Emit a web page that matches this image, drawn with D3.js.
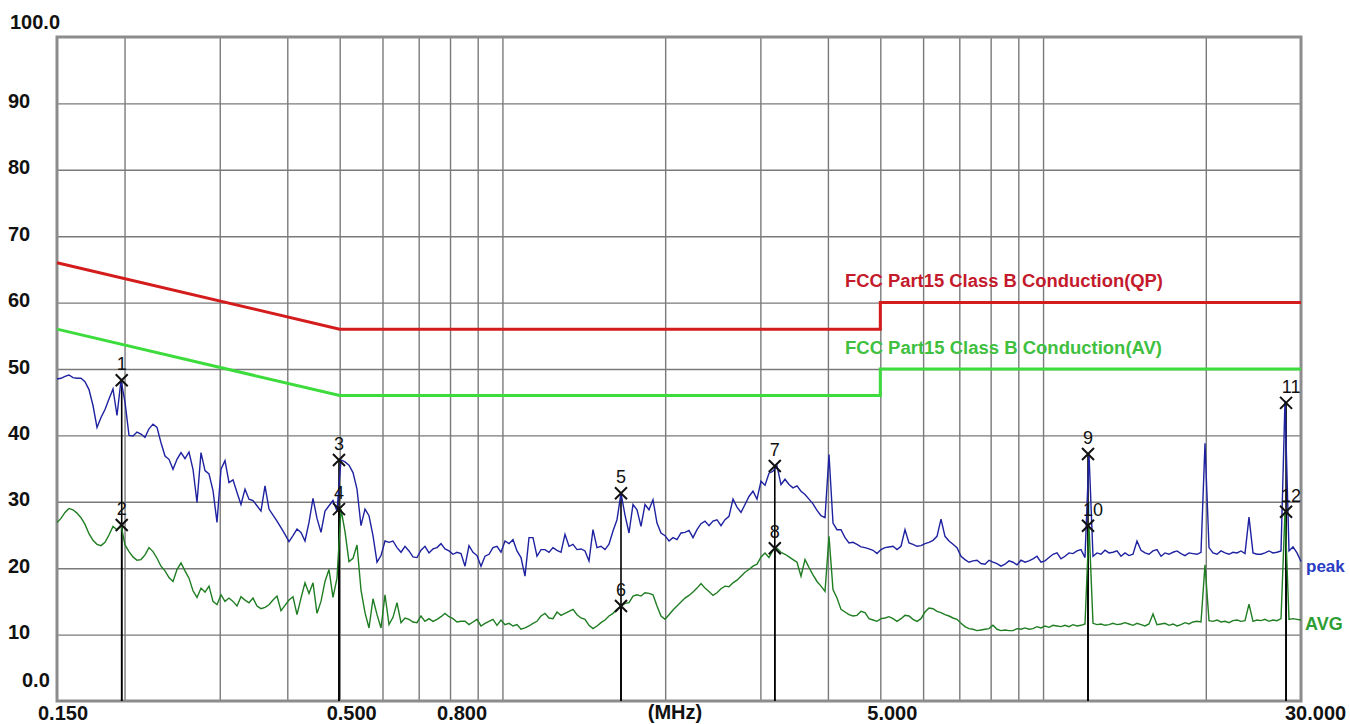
<!DOCTYPE html>
<html><head><meta charset="utf-8">
<script src="https://cdn.jsdelivr.net/npm/d3@7"></script>
<style>html,body{margin:0;padding:0;background:#fff;} svg{display:block;font-family:"Liberation Sans",Arial,sans-serif;}</style>
</head><body>
<svg id="chart" width="1350" height="724"></svg>
<script>
// ---------- data ----------
const fMin = 0.15, fMax = 30;
const yTicks = [100, 90, 80, 70, 60, 50, 40, 30, 20, 10, 0];
const yTickLabels = ["100.0", "90", "80", "70", "60", "50", "40", "30", "20", "10", "0.0"];
const xTickFreqs = [0.15, 0.5, 0.8, 5, 30];
const xTickLabels = ["0.150", "0.500", "0.800", "5.000", "30.000"];
const xUnitLabel = "(MHz)";
const gridFreqs = [0.2, 0.3, 0.4, 0.5, 0.6, 0.7, 0.8, 0.9, 1, 2, 3, 4, 5, 6, 7, 8, 9, 10, 20];
const gridLevels = [10, 20, 30, 40, 50, 60, 70, 80, 90];

const qpFreq = [0.15, 0.5, 5, 5, 30];
const qpLimit = [66, 56, 56, 60, 60];
const avFreq = [0.15, 0.5, 5, 5, 30];
const avLimit = [56, 46, 46, 50, 50];
const qpName = "FCC Part15 Class B Conduction(QP)";
const avName = "FCC Part15 Class B Conduction(AV)";

// sweep readings (dBuV), evenly spaced on the log frequency sweep 0.15 - 30 MHz
const peakLevel = [
48.5,48.6,48.9,49.1,48.7,48.6,48.6,48.1,46.9,44.5,41.2,42.7,43.9,45.5,47.0,
43.0,48.3,45.0,40.0,39.9,40.5,40.2,39.7,41.0,41.7,41.2,38.9,36.9,36.4,34.9,
36.4,37.4,36.5,37.5,34.9,29.9,37.4,34.7,34.2,31.7,26.9,34.9,36.2,32.9,33.3,
31.4,29.6,31.9,30.4,30.2,29.4,28.6,32.4,28.9,28.0,27.1,26.1,25.1,24.0,24.9,
25.9,25.4,24.1,26.9,30.5,27.5,25.4,28.6,29.4,30.2,28.6,36.3,36.0,35.5,34.4,
31.9,26.4,28.9,27.9,24.9,20.9,21.9,24.1,23.9,24.1,
23.1,22.4,23.3,22.6,21.7,21.6,22.7,23.3,22.3,22.9,23.1,23.7,22.9,22.6,22.1,
22.4,22.2,20.3,23.4,22.4,21.9,20.3,21.8,22.1,23.1,23.3,22.4,24.1,23.7,24.3,
22.6,21.6,18.8,24.6,24.6,21.8,22.8,22.8,22.4,23.1,22.7,22.4,25.1,23.3,23.6,
22.8,22.9,22.6,21.1,25.8,23.1,23.3,22.8,23.6,25.6,27.3,31.3,28.0,25.3,29.6,
28.8,26.3,29.6,28.8,30.3,26.8,25.3,24.9,24.1,24.6,24.3,25.3,25.4,25.7,24.6,
25.8,26.7,27.1,26.4,27.1,27.3,26.4,
27.3,27.8,30.4,29.2,28.4,29.6,30.8,31.6,30.4,33.1,32.5,34.3,34.6,35.4,32.6,
33.4,32.6,32.1,32.4,31.6,31.1,30.4,29.7,28.7,27.9,27.6,37.1,26.8,25.8,25.8,
24.6,23.8,23.9,23.6,23.2,23.1,22.9,22.7,22.2,22.8,23.1,23.2,23.3,22.8,23.3,
25.8,23.8,23.6,23.3,23.4,23.7,23.9,24.2,24.8,27.4,24.8,24.1,23.6,23.1,21.8,
21.3,20.9,21.1,21.2,20.7,20.6,21.2,20.9,20.7,20.3,20.6,21.1,
20.9,20.5,21.2,20.9,21.1,21.4,21.8,20.9,21.1,21.6,22.1,22.3,21.4,21.8,22.3,
22.2,22.6,22.8,21.6,37.2,21.8,22.3,22.1,22.7,22.3,22.4,22.6,21.8,22.3,21.9,
22.1,24.1,22.7,22.3,22.1,22.6,22.8,21.8,22.3,22.1,22.4,22.6,22.2,21.9,22.3,
22.2,22.1,22.4,38.8,23.1,22.3,22.1,22.6,22.3,22.1,22.4,22.3,22.6,22.2,27.7,
22.3,22.1,22.1,22.3,22.6,22.3,22.4,22.6,45.2,22.6,23.2,22.3,21.0
];
const avgLevel = [
26.9,27.5,28.4,29.0,28.8,28.3,27.6,26.6,25.2,24.2,23.6,23.4,23.9,25.0,26.3,
25.8,26.5,23.5,22.5,21.7,21.2,21.3,22.0,23.1,22.5,21.5,20.3,19.6,18.6,18.0,
19.8,20.8,19.6,18.5,16.6,15.6,17.0,16.4,17.3,15.0,14.5,16.0,15.0,15.5,15.0,
14.3,15.7,15.2,14.8,15.5,14.3,13.9,14.1,14.5,15.2,15.8,13.6,14.4,15.2,15.7,
13.0,15.5,17.8,16.2,17.8,13.2,15.0,18.0,19.8,15.6,18.5,28.9,25.5,21.0,21.5,
23.5,16.7,13.3,11.0,15.4,13.0,11.0,16.0,11.5,12.6,
14.8,11.8,12.5,12.3,11.9,11.8,12.8,12.0,12.4,12.0,12.3,12.7,13.2,12.7,12.4,
11.9,12.0,12.0,11.5,11.9,12.3,11.3,11.7,12.0,12.3,11.4,12.2,11.5,11.7,11.3,
11.5,10.8,11.0,11.3,11.7,12.0,12.8,13.2,12.5,12.4,13.4,12.9,13.2,13.5,13.8,
13.0,12.5,12.3,11.4,10.9,11.3,11.8,12.2,12.8,13.2,13.8,14.3,14.7,14.8,15.8,
16.0,15.8,16.3,16.2,16.0,14.3,12.8,12.3,13.0,13.7,14.3,14.9,15.5,15.9,16.4,
17.0,17.7,17.0,16.5,15.9,16.3,16.9,
17.3,17.2,17.8,18.2,18.8,19.4,19.8,20.3,20.6,21.7,22.3,21.6,22.7,23.0,22.4,
22.1,21.7,21.3,20.9,18.8,21.3,20.1,19.0,18.0,17.3,16.5,24.8,16.8,15.5,13.8,
13.4,13.0,12.8,12.9,13.5,13.3,12.4,12.2,12.0,12.4,12.5,12.7,12.4,12.0,12.4,
12.9,12.8,12.3,12.0,12.4,13.4,14.0,13.9,13.5,13.3,13.0,12.8,12.5,12.3,11.7,
11.2,10.9,10.8,10.6,10.7,10.8,10.9,11.4,10.8,10.6,10.7,10.6,
10.6,10.9,10.8,11.0,10.8,10.9,11.2,11.0,11.3,11.1,11.4,11.3,11.2,11.4,11.2,
11.5,11.3,11.4,11.6,26.4,11.7,11.5,11.6,11.4,11.5,11.7,11.5,11.6,11.8,11.6,
11.4,11.7,11.5,11.3,11.6,13.1,11.5,11.6,11.7,11.4,11.6,11.3,11.5,11.8,11.6,
11.9,12.0,11.9,20.5,12.1,12.0,12.2,11.9,12.0,11.8,12.1,12.2,12.0,12.1,14.6,
12.0,12.2,12.1,12.3,12.0,12.2,12.1,12.4,28.5,12.3,12.4,12.3,12.2
];
const peakName = "peak";
const avgName = "AVG";

const markerNo = [1, 2, 3, 4, 5, 6, 7, 8, 9, 10, 11, 12];
const markerFreq = [0.1976, 0.1976, 0.4985, 0.4985, 1.657, 1.657, 3.19, 3.19, 12.11, 12.11, 28.15, 28.15];
const markerLevel = [48.3, 26.5, 36.3, 28.9, 31.3, 14.3, 35.4, 23.0, 37.2, 26.4, 44.9, 28.5];

// ---------- drawing ----------
const svg = d3.select("#chart");
const x = d3.scaleLog().domain([fMin, fMax]).range([57, 1301]);
const y = d3.scaleLinear().domain([0, 100]).range([701, 37]);
const plotTop = y(100), plotBottom = y(0), plotLeft = x(fMin), plotRight = x(fMax);

svg.append("rect").attr("width", 1350).attr("height", 724).attr("fill", "#fff");

// grid via axes
const gx = svg.append("g").attr("transform", `translate(0,${plotBottom})`)
  .call(d3.axisBottom(x).tickValues(gridFreqs).tickSize(-(plotBottom - plotTop)).tickFormat(""));
const gy = svg.append("g").attr("transform", `translate(${plotLeft},0)`)
  .call(d3.axisLeft(y).tickValues(gridLevels).tickSize(-(plotRight - plotLeft)).tickFormat(""));
[gx, gy].forEach(g => {
  g.select(".domain").remove();
  g.selectAll(".tick line").attr("stroke", "#7a7a7a").attr("stroke-width", 1.4);
});

// frame
svg.append("rect").attr("x", plotLeft).attr("y", plotTop)
  .attr("width", plotRight - plotLeft).attr("height", plotBottom - plotTop)
  .attr("fill", "none").attr("stroke", "#8c8c8c").attr("stroke-width", 3);

// y tick labels
const yLabX = [10, 8, 8, 8, 8, 8, 8, 8, 8, 8, 22];
const yLabDy = [-8, 4.5, 4.5, 4.5, 4.5, 4.5, 4.5, 4.5, 4.5, 4.5, -14];
svg.append("g").selectAll("text").data(yTicks).join("text")
  .attr("x", (d, i) => yLabX[i]).attr("y", (d, i) => y(d) + yLabDy[i])
  .attr("font-size", 20).attr("font-weight", "bold").attr("fill", "#111")
  .text((d, i) => yTickLabels[i]);

// x tick labels
svg.append("g").selectAll("text").data(xTickFreqs).join("text")
  .attr("x", (d, i) => x(d) + (i === 0 ? -19 : (i === xTickFreqs.length - 1 ? -16 : -13)))
  .attr("y", 720)
  .attr("font-size", 20).attr("font-weight", "bold").attr("fill", "#111")
  .text((d, i) => xTickLabels[i]);
svg.append("text").attr("x", 675).attr("y", 719).attr("text-anchor", "middle")
  .attr("font-size", 20).attr("font-weight", "bold").attr("fill", "#111").text(xUnitLabel);

// limit lines
const line = d3.line().x(d => x(d[0])).y(d => y(d[1]));
svg.append("path").datum(qpFreq.map((f, i) => [f, qpLimit[i]]))
  .attr("d", line).attr("fill", "none").attr("stroke", "#d41c1c").attr("stroke-width", 3);
svg.append("path").datum(avFreq.map((f, i) => [f, avLimit[i]]))
  .attr("d", line).attr("fill", "none").attr("stroke", "#3ddc3d").attr("stroke-width", 3);
svg.append("text").attr("x", 845).attr("y", 287).attr("font-size", 18).attr("font-weight", "bold")
  .attr("fill", "#c41a2c").attr("textLength", 318).attr("lengthAdjust", "spacingAndGlyphs").text(qpName);
svg.append("text").attr("x", 845).attr("y", 354).attr("font-size", 18).attr("font-weight", "bold")
  .attr("fill", "#40c040").attr("textLength", 317).attr("lengthAdjust", "spacingAndGlyphs").text(avName);

// marker drop lines
svg.append("g").selectAll("line").data(markerNo).join("line")
  .attr("x1", (d, i) => x(markerFreq[i])).attr("x2", (d, i) => x(markerFreq[i]))
  .attr("y1", (d, i) => y(markerLevel[i])).attr("y2", plotBottom)
  .attr("stroke", "#000").attr("stroke-width", 1.6);

// traces
const sweep = (arr) => arr.map((v, i) => [fMin * Math.pow(fMax / fMin, i / (arr.length - 1)), v]);
svg.append("path").datum(sweep(avgLevel)).attr("d", line)
  .attr("fill", "none").attr("stroke", "#1f7d22").attr("stroke-width", 1.4);
svg.append("path").datum(sweep(peakLevel)).attr("d", line)
  .attr("fill", "none").attr("stroke", "#1e22a0").attr("stroke-width", 1.4);

svg.append("text").attr("x", 1306).attr("y", 572).attr("font-size", 17).attr("font-weight", "bold")
  .attr("fill", "#2a3cc4").text(peakName);
svg.append("text").attr("x", 1305).attr("y", 630).attr("font-size", 18).attr("font-weight", "bold")
  .attr("fill", "#2e9e34").text(avgName);

// markers
const mk = svg.append("g").selectAll("g").data(markerNo).join("g")
  .attr("transform", (d, i) => `translate(${x(markerFreq[i])},${y(markerLevel[i])})`);
mk.append("path").attr("d", "M-6,-6L6,6M6,-6L-6,6").attr("stroke", "#111").attr("stroke-width", 2).attr("fill", "none");
mk.append("text").attr("x", d => (String(d).length > 1 ? 5 : 0)).attr("y", -10)
  .attr("text-anchor", "middle").attr("font-size", 18).attr("fill", "#111").text(d => d);
</script>
</body></html>
